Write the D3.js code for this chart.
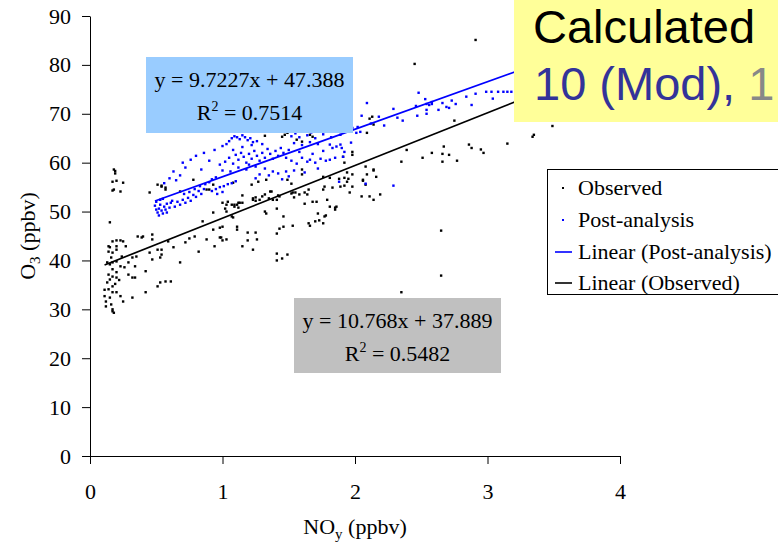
<!DOCTYPE html>
<html><head><meta charset="utf-8">
<script src="https://cdn.jsdelivr.net/npm/d3@7"></script>
<style>body{margin:0;background:#fff}svg{display:block}</style>
</head><body>
<svg id="c" width="778" height="544"></svg>
<script>
// ---- data (NOy ppbv, O3 ppbv) ----
const observed = [
[0.19,58.3],[0.19,57.8],[0.18,58.6],[0.17,56.1],[0.20,56.3],[0.25,55.9],[0.18,54.5],[0.23,54.1],[0.17,54.3],[0.15,47.8],
[0.14,42.9],[0.15,42.7],[0.17,43.9],[0.20,44.1],[0.23,44.1],[0.25,43.9],[0.27,42.9],[0.20,42.9],[0.14,41.8],[0.17,41.6],[0.20,42.2],
[0.13,39.6],[0.15,39.2],[0.17,39.6],[0.20,39.8],[0.23,38.8],[0.17,38.2],[0.20,37.6],[0.14,37.1],[0.17,36.7],[0.15,36.1],[0.20,36.5],
[0.13,35.5],[0.17,34.7],[0.14,34.1],[0.17,33.5],[0.11,32.7],[0.15,32.4],[0.12,31.6],[0.17,30.0],[0.17,29.6],[0.18,29.3],[0.20,33.5],
[0.23,32.7],[0.12,30.6],[0.16,31.0],[0.19,35.2],[0.22,36.0],[0.11,34.0],[0.24,40.8],[0.16,40.6],
[0.26,38.6],[0.29,37.1],[0.32,36.5],[0.34,36.5],[0.25,31.6],[0.32,32.4],[0.42,33.5],[0.51,34.7],[0.53,35.5],[0.57,35.7],[0.61,35.7],
[0.29,39.6],[0.32,40.6],[0.34,38.8],[0.42,37.8],[0.36,44.9],[0.39,44.7],[0.40,44.9],[0.47,45.3],[0.47,44.3],
[0.35,40.8],[0.45,41.6],[0.51,42.2],[0.54,42.2],[0.54,41.2],[0.53,40.6],[0.47,40.2],[0.59,43.9],[0.63,42.7],[0.68,39.6],[0.72,43.7],
[0.75,44.5],[0.79,44.9],[0.82,41.8],[0.88,44.3],[0.93,46.3],[0.94,42.9],[0.98,44.7],[1.03,44.3],[1.07,49.0],[1.11,46.3],[1.15,42.9],
[1.19,45.7],[1.23,42.2],[1.26,44.3],
[0.45,53.9],[0.51,55.5],[0.54,55.3],[0.57,54.5],[0.68,54.1],[0.88,54.5],[0.93,49.8],[0.85,48.0],[1.00,46.9],[1.09,51.4],[1.13,51.8],
[1.23,52.4],[1.28,52.4],[1.32,53.5],[1.36,54.1],[1.43,53.1],[1.53,53.9],[1.58,53.5],[1.64,53.5],[1.68,52.0],[1.76,54.5],[1.83,54.9],
[1.89,55.1],[1.94,56.1],[1.98,57.6],[2.09,57.6],[2.14,58.6],
[1.52,55.7],[1.22,55.5],[1.27,56.1],[1.33,56.5],[1.15,53.3],[1.23,52.7],[1.25,52.2],[1.30,53.1],[1.37,54.1],[1.38,52.4],[1.35,52.7],
[1.42,53.3],[1.52,53.7],[1.55,53.9],[1.62,53.9],[1.65,54.5],[1.54,52.9],[1.77,55.1],[1.92,55.3],[1.08,55.9],[1.00,51.8],[1.04,52.0],
[1.12,51.8],[1.15,51.8],[1.09,51.0],[1.12,50.8],[1.02,50.6],[1.03,50.0],[1.08,48.8],[1.11,46.9],[0.98,46.7],[1.32,50.0],[1.33,49.6],
[1.41,50.6],[1.46,49.0],[1.46,46.9],[1.53,47.1],[1.43,46.5],[1.41,45.5],[1.25,45.7],[1.19,44.1],[0.99,44.7],[1.00,44.1],[1.62,51.6],
[1.71,52.0],[1.72,49.6],[1.77,49.0],[1.78,49.2],[1.73,48.2],[1.70,48.0],[1.65,47.6],[1.66,47.1],[1.76,47.6],[1.85,50.8],[1.86,51.0],
[2.05,53.1],[2.11,53.1],[2.14,52.4],[2.19,53.5],[2.06,56.3],[1.41,41.4],[1.45,40.4],[1.41,40.0],[1.49,41.2],
[2.13,69.4],[2.11,69.0],[2.14,67.8],[2.09,66.1],[1.98,62.2],[1.98,61.6],[1.92,60.0],[2.08,59.2],[2.14,58.4],[2.16,57.1],[2.06,56.5],
[2.08,55.5],[1.85,50.4],[2.35,60.2],[2.39,62.6],[2.51,61.0],[2.58,62.0],[2.66,61.8],[2.67,63.3],[2.71,61.6],[2.66,60.2],[2.77,60.4],
[2.75,68.6],[2.86,63.7],[2.88,63.0],[2.95,62.7],[2.97,62.0],[3.15,63.9],[3.35,65.7],[3.34,65.3],[3.49,67.5],[1.88,56.7],[1.92,56.9],
[1.95,56.7],[2.65,46.1],[2.65,36.9],[2.35,33.5],[2.91,85.1],[2.45,80.2],
[1.47,65.7],[1.45,65.3],[1.49,66.1],[1.32,65.5],[1.56,64.7],[1.60,64.3],[1.66,65.7],[1.68,65.3],[1.60,58.6],[1.60,57.6],[1.49,56.5],
[1.25,52.9],[1.03,51.4],[1.07,51.4],[1.11,51.4],[0.54,55.1],[0.57,54.9],[0.78,56.5],[0.90,54.5],[0.93,55.5],[1.96,53.9],[1.98,55.1],
[1.81,51.0],[1.94,58.0],[1.91,61.2],[1.76,57.1],[1.81,56.9],[1.79,52.4],[1.41,52.4]
];
const postAnalysis = [
[0.49,51.2],[0.50,50.4],[0.51,49.8],[0.52,50.6],[0.53,51.4],[0.54,50.2],[0.55,49.6],[0.53,52.4],[0.56,51.0],[0.57,50.4],[0.58,51.6],
[0.60,50.8],[0.61,51.8],[0.50,52.0],[0.52,49.2],[0.55,52.6],[0.58,49.8],[0.62,52.2],[0.64,51.0],[0.66,52.0],[0.68,51.4],[0.70,52.4],
[0.72,51.8],[0.74,52.8],[0.76,52.2],[0.78,53.4],[0.80,53.0],[0.82,54.2],[0.84,53.6],[0.86,54.6],[0.71,53.6],[0.75,54.0],[0.79,54.6],
[0.83,55.2],[0.87,55.6],[0.90,56.0],[0.92,56.6],[0.95,57.0],
[0.92,54.2],[0.95,54.6],[0.98,55.0],[1.01,55.2],[1.04,55.6],[1.07,55.8],[1.10,56.2],[0.96,53.6],[1.00,54.0],
[0.56,55.8],[0.60,56.8],[0.63,58.2],[0.68,57.4],[0.72,59.0],[0.76,60.6],[0.80,61.4],[0.84,58.6],[0.86,62.0],[0.90,60.4],[0.94,62.6],
[0.70,60.0],[0.65,56.4],[0.98,59.6],[1.00,58.4],
[1.02,60.2],[1.05,61.0],[1.08,59.8],[1.10,61.6],[1.12,60.6],[1.14,62.0],[1.16,61.2],[1.18,60.0],[1.20,61.8],[1.22,60.8],[1.24,62.4],
[1.26,61.4],[1.28,60.4],[1.30,62.0],[1.32,61.0],[1.34,62.8],[1.36,61.8],[1.38,60.8],[1.40,62.4],[1.42,61.4],[1.44,63.0],[1.46,62.0],
[1.48,61.0],[1.50,62.6],[1.12,59.0],[1.18,58.6],[1.25,59.2],[1.32,58.8],[1.38,58.2],[1.28,57.6],[1.35,57.4],[1.42,57.8],[1.48,58.2],
[1.15,63.2],[1.22,63.6],[1.08,62.6],[1.30,63.8],[1.26,64.4],[1.20,59.6],[1.06,58.2],
[1.05,64.4],[1.07,65.0],[1.09,65.4],[1.11,65.2],[1.13,64.8],[1.15,65.6],[1.17,65.2],[1.19,64.6],[1.21,65.0],[1.23,64.2],[1.00,63.4],[1.03,63.8],
[1.52,65.4],[1.55,66.0],[1.58,65.2],[1.61,66.4],[1.64,65.6],[1.67,66.2],[1.70,65.0],[1.73,66.6],[1.76,65.8],[1.79,66.4],[1.82,65.2],
[1.54,64.0],[1.60,63.6],[1.66,64.2],[1.72,63.8],[1.81,63.7],[1.83,63.0],[1.86,63.3],[1.89,63.7],[1.90,63.0],[1.92,62.2],[1.91,61.2],
[1.85,61.0],[1.97,64.1],[1.89,65.7],[2.01,66.1],[2.04,66.3],
[1.52,60.4],[1.56,59.8],[1.60,61.0],[1.64,60.2],[1.66,60.6],[1.70,60.0],[1.74,60.8],[1.78,60.4],[1.81,60.6],[1.58,62.2],[1.68,61.8],
[1.76,62.4],[1.54,58.4],[1.62,58.0],[1.72,58.8],[1.50,57.2],
[1.88,56.1],[2.08,55.7],[2.29,55.3],[1.45,56.6],[1.25,56.8],
[1.98,67.1],[2.02,67.3],[2.09,72.2],[2.05,69.6],[2.29,71.0],[2.32,69.2],[2.36,68.6],[2.48,74.3],[2.53,73.0],[2.46,71.6],[2.47,69.6],
[2.54,72.0],[2.56,71.8],[2.58,72.0],[2.54,70.8],[2.54,70.0],[2.58,72.4],[2.63,70.8],[2.66,72.2],[2.69,71.4],[2.71,71.2],[2.73,72.7],
[2.76,72.0],[2.84,73.5],[2.88,71.8],[2.91,74.1],[2.99,74.5],[3.03,74.5],[3.08,74.5],[3.12,74.5],[3.15,74.5],[3.18,74.5],[3.04,73.1],
[2.12,68.0],[2.18,69.4],[2.22,67.6]
];
const fitNames = ["Linear (Post-analysis)", "Linear (Observed)"];
const fitSlope = [9.7227, 10.768];
const fitIntercept = [47.388, 37.889];
const fitR2 = ["0.7514", "0.5482"];
const fitXRange = [[0.49, 3.3], [0.11, 3.5]];
const fitColors = ["#0000ff", "#000000"];
const legendLabels = ["Observed", "Post-analysis", "Linear (Post-analysis)", "Linear (Observed)"];
const xTicks = [0, 1, 2, 3, 4];
const yTicks = [0, 10, 20, 30, 40, 50, 60, 70, 80, 90];

// ---- drawing ----
const svg = d3.select("#c");
const serif = "'Liberation Serif','Times New Roman',serif";
const fs = 22;
const x = d3.scaleLinear().domain([0, 4]).range([90, 620]);
const y = d3.scaleLinear().domain([0, 90]).range([456, 16]);

// axes
const gx = svg.append("g").attr("transform", `translate(0,${y(0)})`)
  .call(d3.axisBottom(x).tickValues(xTicks).tickSize(8).tickSizeOuter(0).tickPadding(19).tickFormat(d3.format("d")));
const gy = svg.append("g").attr("transform", `translate(${x(0)},0)`)
  .call(d3.axisLeft(y).tickValues(yTicks).tickSize(8).tickSizeOuter(0).tickPadding(11).tickFormat(d3.format("d")));
[gx, gy].forEach(g => {
  g.selectAll("text").attr("font-family", serif).attr("font-size", fs).attr("fill", "#000");
  g.selectAll("line,path").attr("stroke", "#000").attr("stroke-width", 1);
});

// points
svg.append("g").selectAll("rect").data(observed).join("rect")
  .attr("x", d => x(d[0]) - 1.2).attr("y", d => y(d[1]) - 1.2).attr("width", 2.4).attr("height", 2.4).attr("fill", "#000");
svg.append("g").selectAll("rect").data(postAnalysis).join("rect")
  .attr("x", d => x(d[0]) - 1.2).attr("y", d => y(d[1]) - 1.2).attr("width", 2.4).attr("height", 2.4).attr("fill", "#0000ff");

// trend lines
fitSlope.forEach((m, i) => {
  const [a, b] = fitXRange[i];
  svg.append("line")
    .attr("x1", x(a)).attr("y1", y(m * a + fitIntercept[i]))
    .attr("x2", x(b)).attr("y2", y(m * b + fitIntercept[i]))
    .attr("stroke", fitColors[i]).attr("stroke-width", 1.7);
});

// equation boxes
function eqBox(i, bx, by, bw, bh, fill) {
  svg.append("rect").attr("x", bx).attr("y", by).attr("width", bw).attr("height", bh).attr("fill", fill);
  const cx = bx + bw / 2;
  svg.append("text").attr("x", cx).attr("y", by + 30).attr("text-anchor", "middle")
    .attr("font-family", serif).attr("font-size", fs)
    .text(`y = ${fitSlope[i]}x + ${fitIntercept[i]}`);
  const t = svg.append("text").attr("x", cx).attr("y", by + 63).attr("text-anchor", "middle")
    .attr("font-family", serif).attr("font-size", fs);
  t.append("tspan").text("R");
  t.append("tspan").attr("dy", -9).attr("font-size", 14).text("2");
  t.append("tspan").attr("dy", 9).text(` = ${fitR2[i]}`);
}
eqBox(0, 146, 57, 207, 76, "#99ccff");
eqBox(1, 294, 298, 207, 75, "#c0c0c0");

// legend
const lg = svg.append("g");
lg.append("rect").attr("x", 547.5).attr("y", 169.5).attr("width", 240).attr("height", 125)
  .attr("fill", "#fff").attr("stroke", "#000").attr("stroke-width", 1);
const rowY = [188, 220, 252, 283];
legendLabels.forEach((lab, i) => {
  if (i < 2) {
    lg.append("rect").attr("x", 562).attr("y", rowY[i] - 1).attr("width", 2).attr("height", 2)
      .attr("fill", i === 0 ? "#000" : "#0000ff");
  } else {
    lg.append("line").attr("x1", 555).attr("x2", 572).attr("y1", rowY[i]).attr("y2", rowY[i])
      .attr("stroke", i === 2 ? "#0000ff" : "#000").attr("stroke-width", 1.6);
  }
  lg.append("text").attr("x", 578).attr("y", rowY[i] + 7).attr("font-family", serif).attr("font-size", fs).text(lab);
});

// axis titles
const xt = svg.append("text").attr("x", 355).attr("y", 534).attr("text-anchor", "middle")
  .attr("font-family", serif).attr("font-size", 22);
xt.append("tspan").text("NO");
xt.append("tspan").attr("dy", 5).attr("font-size", 15).text("y");
xt.append("tspan").attr("dy", -5).text(" (ppbv)");
const yt = svg.append("text").attr("transform", "translate(35,236) rotate(-90)").attr("text-anchor", "middle")
  .attr("font-family", serif).attr("font-size", 22);
yt.append("tspan").text("O");
yt.append("tspan").attr("dy", 5).attr("font-size", 15).text("3");
yt.append("tspan").attr("dy", -5).text(" (ppbv)");

// overlay label
svg.append("rect").attr("x", 514).attr("y", 0).attr("width", 264).attr("height", 122).attr("fill", "#ffff99");
const sans = "'Liberation Sans',Arial,sans-serif";
svg.append("text").attr("x", 533).attr("y", 43).attr("font-family", sans).attr("font-size", 47).attr("fill", "#000").text("Calculated");
const t2 = svg.append("text").attr("x", 534).attr("y", 100).attr("font-family", sans).attr("font-size", 47);
t2.append("tspan").attr("fill", "#333399").text("10 (Mod), ");
t2.append("tspan").attr("fill", "#888888").text("1");
</script>
</body></html>
